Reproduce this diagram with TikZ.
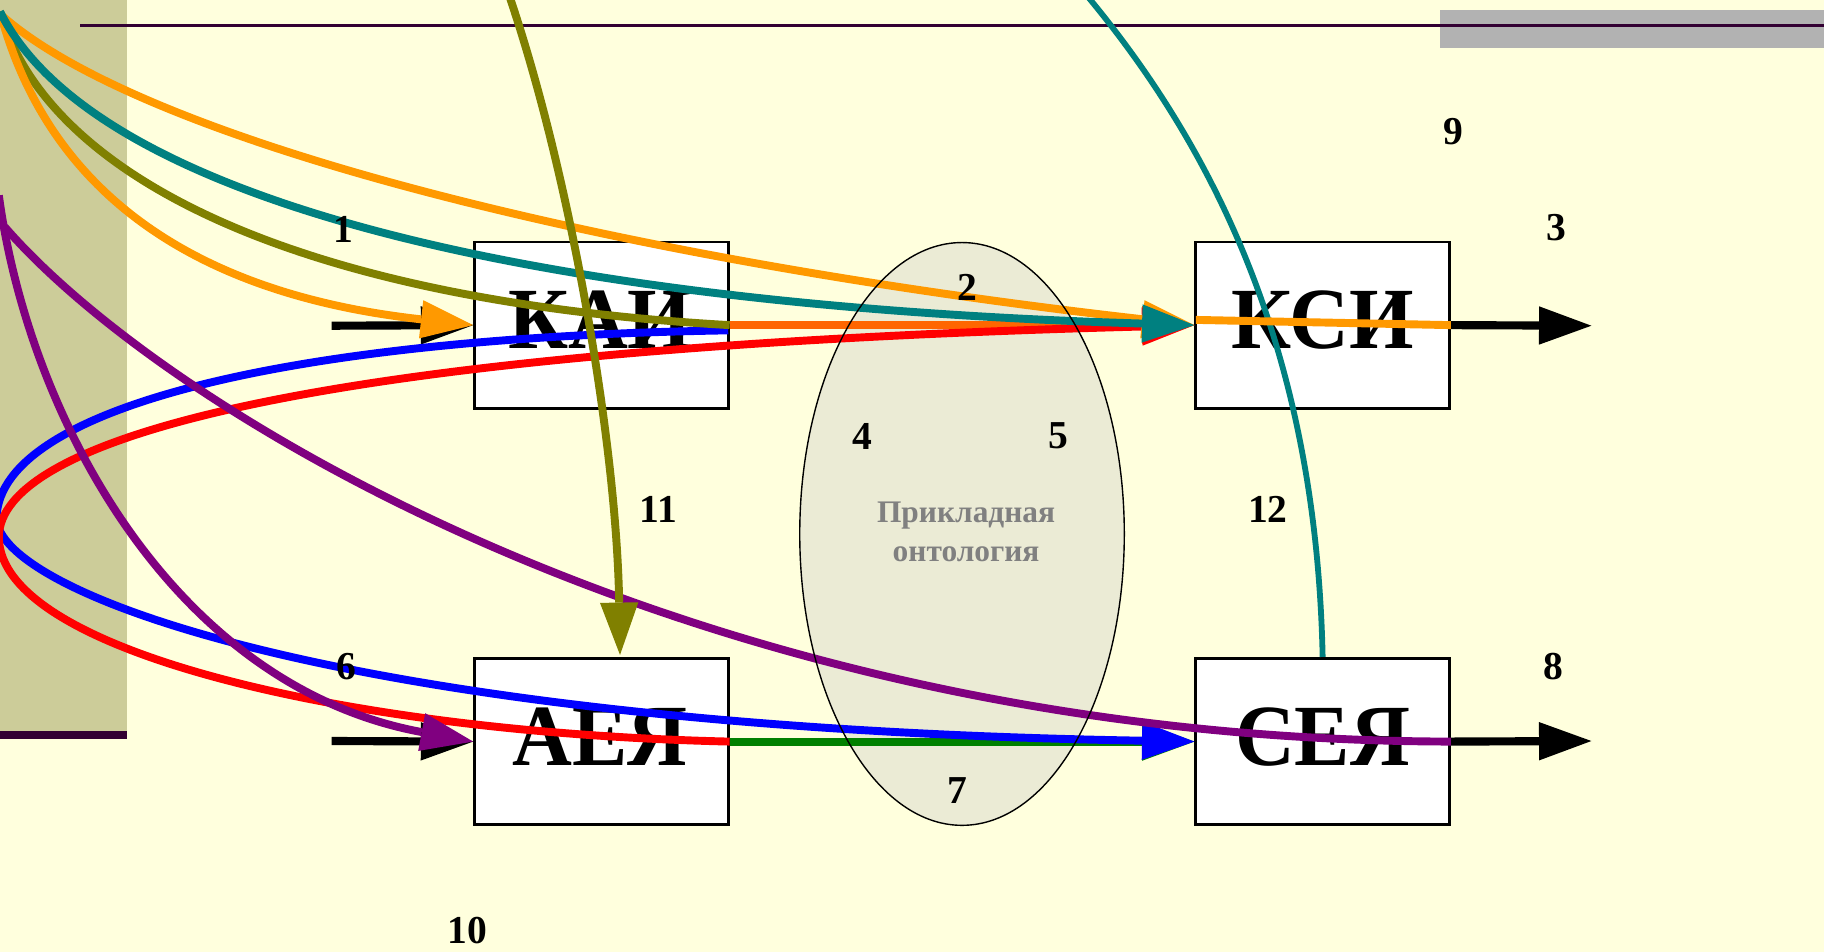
\documentclass[tikz,border=0pt]{standalone}
\usepackage{fontspec}
\setmainfont{Liberation Serif}
\usetikzlibrary{arrows.meta,shapes.geometric}
\definecolor{bgc}{HTML}{FFFFDD}
\definecolor{bandc}{HTML}{CCCC99}
\definecolor{darkl}{HTML}{330033}
\definecolor{grayb}{HTML}{B2B2B2}
\definecolor{ellc}{HTML}{EBEBD5}
\definecolor{orng}{HTML}{FF9900}
\definecolor{dorng}{HTML}{FF6600}
\definecolor{tealc}{HTML}{008080}
\definecolor{olivc}{HTML}{808000}
\definecolor{purpc}{HTML}{800080}
\definecolor{bluec}{HTML}{0000FF}
\definecolor{redc}{HTML}{FF0000}
\definecolor{greenc}{HTML}{008000}
\definecolor{grtxt}{HTML}{808080}
\begin{document}
\begin{tikzpicture}[x=1pt,y=-1pt,
  box/.style={draw=black,line width=2.5pt,fill=white,minimum width=218pt,minimum height=143pt,inner sep=0pt},
  btxt/.style={font=\bfseries\fontsize{75}{75}\selectfont,anchor=base,inner sep=0pt,xscale=0.95},
  num/.style={font=\bfseries\fontsize{34}{34}\selectfont,inner sep=0pt},
  otxt/.style={font=\bfseries\fontsize{27}{27}\selectfont,anchor=base,inner sep=0pt,text=grtxt},
  cv/.style={line width=6.8pt},
  blk/.style={line width=7pt,draw=black},
  arr/.style={-{Triangle[length=45pt,width=33pt,line width=0pt]}},
]
% background
\fill[bgc] (0,0) rectangle (1568,818);
\useasboundingbox (0,0) rectangle (1568,818);
\fill[bandc] (0,0) rectangle (109,632);
\draw[darkl,line width=7pt] (0,632) -- (109,632);
\fill[grayb] (1238,9) rectangle (1568,41);
\draw[darkl,line width=3.2pt] (69,22) -- (1568,22);

% ontology ellipse (fill)
\node[ellipse,fill=ellc,minimum width=279pt,minimum height=501pt,inner sep=0pt] (onto) at (827,459) {};
\node[otxt] (ot1) at (830.5,449) {Прикладная};
\node[otxt] (ot2) at (830.5,483) {онтология};

% boxes
\node[box] (kai) at (517,279.5) {};
\node[box] (ksi) at (1137,279.5) {};
\node[box] (aey) at (517,637.5) {};
\node[box] (sey) at (1137,637.5) {};
\node[btxt] (tkai) at (516,300) {КАИ};
\node[btxt] (tksi) at (1137,300) {КСИ};
\node[btxt] (taey) at (516,658) {АЕЯ};
\node[btxt] (tsey) at (1137,658) {СЕЯ};

% free ends
\coordinate (in1) at (285,280);
\coordinate (in2) at (285,637);
\coordinate (out1) at (1368,280);
\coordinate (out2) at (1368,637);
\coordinate (tl) at (0,10);
\coordinate (tlo) at (0,12);
\coordinate (bst) at (626,284);
\coordinate (ko) at (1028,275);
\coordinate (ptop) at (-1,168);
\coordinate (pbr) at (4,195);
\coordinate (otop) at (438,-3);
\coordinate (od) at (533,563);
\coordinate (ttop) at (935,-3);

% black arrows
\draw[blk,arr] (in1) -- (kai.west);
\draw[blk,arr] (in2) -- (aey.west);
\draw[blk,arr] (ksi.east) -- (out1);
\draw[blk,arr] (sey.east) -- (out2);

% teal up
\draw[line width=5pt,tealc] (sey.north) .. controls (1132,330) and (1062,150) .. (ttop);
% green
\draw[cv,greenc,arr] (aey.east) -- (sey.west);
% blue loop
\draw[cv,bluec,arr] (bst) .. controls (250,290) and (0,350) .. (-3,445) .. controls (-3,510) and (300,625) .. (sey.west);
% dark orange
\draw[cv,dorng,arr] (kai.east) -- (ksi.west);
% red loop
\draw[cv,redc,arr] (aey.east) .. controls (300,630) and (0,560) .. (-1,462) .. controls (-1,380) and (250,300) .. (ksi.west);
% olive top
\draw[cv,olivc] (tl) .. controls (40,150) and (250,258) .. (kai.east);
% lower orange
\draw[cv,orng,arr] (tl) .. controls (40,160) and (160,252) .. (kai.west);
% top orange
\draw[cv,orng,arr] (tlo) .. controls (120,120) and (520,222) .. (ksi.west);
\draw[cv,orng] (ko) -- (ksi.east);
% teal top
\draw[cv,tealc,arr] (tl) .. controls (80,170) and (450,262) .. (ksi.west);
% purple
\draw[cv,purpc,arr] (ptop) .. controls (25,360) and (150,590) .. (aey.west);
\draw[cv,purpc] (pbr) .. controls (140,352) and (600,636) .. (sey.east);
% olive down
\draw[cv,olivc,arr] (otop) .. controls (490,150) and (530,380) .. (od);

% ellipse border
\node[ellipse,draw=black,line width=1.2pt,minimum width=279pt,minimum height=501pt,inner sep=0pt] (ontob) at (onto.center) {};

% labels
\node[num] (n1) at (295,197) {1};
\node[num] (n2) at (832,247) {2};
\node[num] (n3) at (1338,196) {3};
\node[num] (n4) at (741,375) {4};
\node[num] (n5) at (910,375) {5};
\node[num] (n6) at (298,573) {6};
\node[num] (n7) at (823,680) {7};
\node[num] (n8) at (1335,573) {8};
\node[num] (n9) at (1249,113) {9};
\node[num] (n10) at (402,800) {10};
\node[num] (n11) at (566,438) {11};
\node[num] (n12) at (1090,438) {12};
\end{tikzpicture}
\end{document}
